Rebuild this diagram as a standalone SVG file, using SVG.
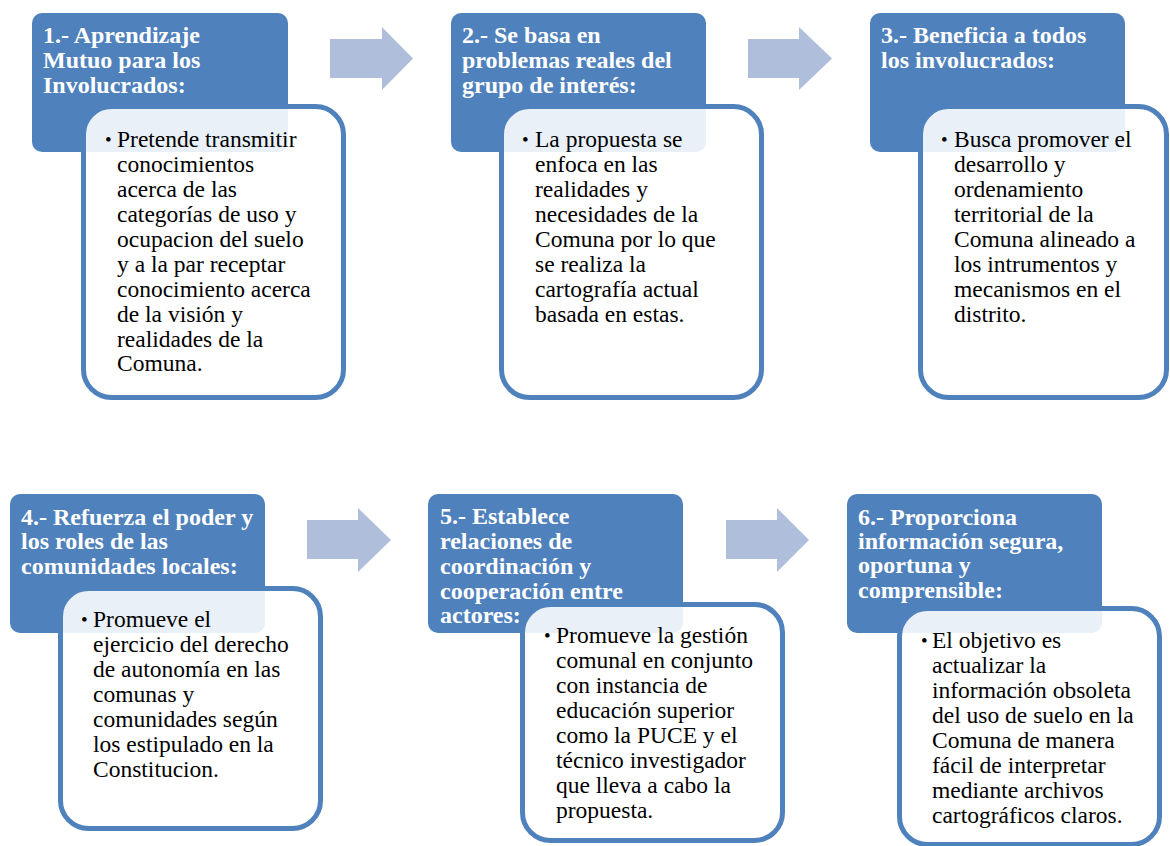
<svg xmlns="http://www.w3.org/2000/svg" width="1170" height="846" viewBox="0 0 1170 846">
<style>
.hd{fill:#4F81BD}
.bx{fill:#FFFFFF;fill-opacity:0.88;stroke:#4F81BD;stroke-width:5}
.ar{fill:#AFBFDB}
.ht{font-family:'Liberation Serif','Times New Roman',serif;font-weight:bold;font-size:24px;fill:#FFFFFF}
.bt{font-family:'Liberation Serif','Times New Roman',serif;font-size:23.5px;fill:#000000}
.bl{font-family:'Liberation Serif','Times New Roman',serif;font-size:19px;fill:#000000}
</style>
<rect width="1170" height="846" fill="#FFFFFF"/>
<g id="connectors">
<polygon class="ar" points="330,39 382,39 382,27 413,58.5 382,90 382,78 330,78"/>
<polygon class="ar" points="748,39 799,39 799,27 832,58.5 799,90 799,78 748,78"/>
<polygon class="ar" points="307,520 358,520 358,508 391,540 358,572 358,559 307,559"/>
<polygon class="ar" points="726,520 777,520 777,508 809,540 777,572 777,559 726,559"/>
</g>
<g id="node1">
<rect class="hd" x="32" y="13" width="256" height="139" rx="10"/>
<text class="ht"><tspan x="43" y="43">1.- Aprendizaje</tspan><tspan x="43" y="68">Mutuo para los</tspan><tspan x="43" y="93">Involucrados:</tspan></text>
<rect class="bx" x="83.5" y="106.5" width="260" height="291" rx="28"/>
<text class="bl" x="105" y="146">•</text>
<text class="bt"><tspan x="117" y="147">Pretende transmitir</tspan><tspan x="117" y="172">conocimientos</tspan><tspan x="117" y="197">acerca de las</tspan><tspan x="117" y="222">categorías de uso y</tspan><tspan x="117" y="247">ocupacion del suelo</tspan><tspan x="117" y="272">y a la par receptar</tspan><tspan x="117" y="297">conocimiento acerca</tspan><tspan x="117" y="322">de la visión y</tspan><tspan x="117" y="347">realidades de la</tspan><tspan x="117" y="371">Comuna.</tspan></text>
</g>
<g id="node2">
<rect class="hd" x="451" y="13" width="255" height="139" rx="10"/>
<text class="ht"><tspan x="462" y="43">2.- Se basa en</tspan><tspan x="462" y="68">problemas reales del</tspan><tspan x="462" y="93">grupo de interés:</tspan></text>
<rect class="bx" x="501.5" y="106.5" width="260" height="291" rx="28"/>
<text class="bl" x="522" y="146">•</text>
<text class="bt"><tspan x="535" y="147">La propuesta se</tspan><tspan x="535" y="172">enfoca en las</tspan><tspan x="535" y="197">realidades y</tspan><tspan x="535" y="222">necesidades de la</tspan><tspan x="535" y="247">Comuna por lo que</tspan><tspan x="535" y="272">se realiza la</tspan><tspan x="535" y="297">cartografía actual</tspan><tspan x="535" y="322">basada en estas.</tspan></text>
</g>
<g id="node3">
<rect class="hd" x="870" y="13" width="255" height="139" rx="10"/>
<text class="ht"><tspan x="881" y="43">3.- Beneficia a todos</tspan><tspan x="881" y="68">los involucrados:</tspan></text>
<rect class="bx" x="920.5" y="106.5" width="246" height="291" rx="28"/>
<text class="bl" x="941" y="146">•</text>
<text class="bt"><tspan x="954" y="147">Busca promover el</tspan><tspan x="954" y="172">desarrollo y</tspan><tspan x="954" y="197">ordenamiento</tspan><tspan x="954" y="222">territorial de la</tspan><tspan x="954" y="247">Comuna alineado a</tspan><tspan x="954" y="272">los intrumentos y</tspan><tspan x="954" y="297">mecanismos en el</tspan><tspan x="954" y="322">distrito.</tspan></text>
</g>
<g id="node4">
<rect class="hd" x="10" y="494" width="255" height="139" rx="10"/>
<text class="ht"><tspan x="21" y="525">4.- Refuerza el poder y</tspan><tspan x="21" y="549">los roles de las</tspan><tspan x="21" y="574">comunidades locales:</tspan></text>
<rect class="bx" x="60.5" y="588.5" width="260" height="240" rx="28"/>
<text class="bl" x="81" y="626">•</text>
<text class="bt"><tspan x="93" y="627">Promueve el</tspan><tspan x="93" y="652">ejercicio del derecho</tspan><tspan x="93" y="677">de autonomía en las</tspan><tspan x="93" y="702">comunas y</tspan><tspan x="93" y="727">comunidades según</tspan><tspan x="93" y="752">los estipulado en la</tspan><tspan x="93" y="777">Constitucion.</tspan></text>
</g>
<g id="node5">
<rect class="hd" x="428" y="494" width="255" height="139" rx="10"/>
<text class="ht"><tspan x="440" y="524">5.- Establece</tspan><tspan x="440" y="549">relaciones de</tspan><tspan x="440" y="574">coordinación y</tspan><tspan x="440" y="599">cooperación entre</tspan><tspan x="440" y="623">actores:</tspan></text>
<rect class="bx" x="522.5" y="604.5" width="260" height="236" rx="28"/>
<text class="bl" x="544" y="642">•</text>
<text class="bt"><tspan x="556" y="643">Promueve la gestión</tspan><tspan x="556" y="668">comunal en conjunto</tspan><tspan x="556" y="693">con instancia de</tspan><tspan x="556" y="718">educación superior</tspan><tspan x="556" y="743">como la PUCE y el</tspan><tspan x="556" y="768">técnico investigador</tspan><tspan x="556" y="793">que lleva a cabo la</tspan><tspan x="556" y="818">propuesta.</tspan></text>
</g>
<g id="node6">
<rect class="hd" x="847" y="494" width="255" height="139" rx="10"/>
<text class="ht"><tspan x="858" y="525">6.- Proporciona</tspan><tspan x="858" y="549">información segura,</tspan><tspan x="858" y="573">oportuna y</tspan><tspan x="858" y="598">comprensible:</tspan></text>
<rect class="bx" x="899.5" y="608.5" width="260" height="236" rx="28"/>
<text class="bl" x="921" y="647">•</text>
<text class="bt"><tspan x="932" y="648">El objetivo es</tspan><tspan x="932" y="673">actualizar la</tspan><tspan x="932" y="698">información obsoleta</tspan><tspan x="932" y="723">del uso de suelo en la</tspan><tspan x="932" y="748">Comuna de manera</tspan><tspan x="932" y="773">fácil de interpretar</tspan><tspan x="932" y="798">mediante archivos</tspan><tspan x="932" y="823">cartográficos claros.</tspan></text>
</g>
</svg>
